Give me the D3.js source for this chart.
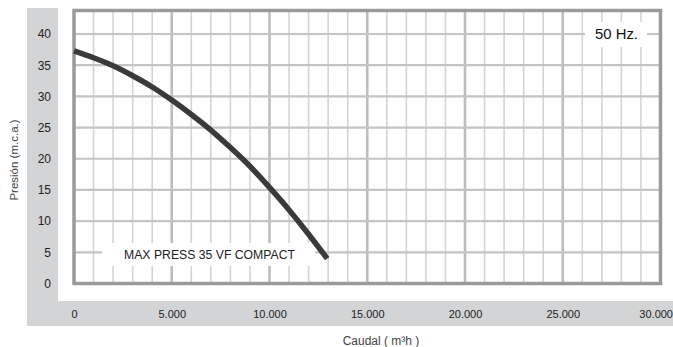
<!DOCTYPE html>
<html><head><meta charset="utf-8">
<script src="https://cdn.jsdelivr.net/npm/d3@7"></script>
<style>
html,body{margin:0;padding:0;background:#fff;}
svg{display:block;font-family:"Liberation Sans",Arial,Helvetica,sans-serif;}
</style></head>
<body>
<svg id="chart" width="673" height="347"></svg>
<script>
// ---- data ----
const flow = [0, 1000, 2000, 3000, 4000, 5000, 6000, 7000, 8000, 9000, 10000, 11000, 12000, 12950];
const pressure = [37.3, 36.2, 34.9, 33.3, 31.5, 29.4, 27.1, 24.6, 21.8, 18.8, 15.4, 11.8, 7.9, 4.0];
const xTicks = [0, 5000, 10000, 15000, 20000, 25000, 30000];
const yTicks = [0, 5, 10, 15, 20, 25, 30, 35, 40];
const seriesName = "MAX PRESS 35 VF COMPACT";
const freqLabel = "50 Hz.";
const yTitle = "Presión (m.c.a.)";
const xTitle = "Caudal";
const xUnit = "m³h";

const svg = d3.select("#chart");
const W = 673, H = 347;
const x = d3.scaleLinear().domain([0, 30000]).range([74, 660.5]);
const y = d3.scaleLinear().domain([0, 40]).range([283.5, 34]);
const frameTop = 10.5;

const loc = d3.formatLocale({decimal: ",", thousands: ".", grouping: [3], currency: ["", ""]});
const fmt = loc.format(",");

// grey panels
svg.append("rect").attr("x", 27).attr("y", 8).attr("width", 31).attr("height", 318).attr("fill", "#d3d4d6");
svg.append("rect").attr("x", 27).attr("y", 301).attr("width", W - 27).attr("height", 25).attr("fill", "#d3d4d6");

// grid
const g = svg.append("g");
const minor = d3.range(1000, 30000, 1000).filter(v => v % 5000 !== 0);
g.selectAll("line.vmin").data(minor).join("line")
  .attr("x1", d => x(d)).attr("x2", d => x(d)).attr("y1", frameTop).attr("y2", y(0))
  .attr("stroke", "#d4d4d6").attr("stroke-width", 1.6);
g.selectAll("line.vmaj").data(xTicks.filter(v => v > 0 && v < 30000)).join("line")
  .attr("x1", d => x(d)).attr("x2", d => x(d)).attr("y1", frameTop).attr("y2", y(0))
  .attr("stroke", "#bdbdbf").attr("stroke-width", 2.6);
g.selectAll("line.h").data(yTicks.filter(v => v > 0)).join("line")
  .attr("x1", x(0)).attr("x2", x(30000)).attr("y1", d => y(d)).attr("y2", d => y(d))
  .attr("stroke", "#c4c4c6").attr("stroke-width", 2.2);

// label boxes (white, covering grid)
svg.append("rect").attr("x", 102).attr("y", 243).attr("width", 213).attr("height", 23).attr("fill", "#fff");
svg.append("rect").attr("x", 585).attr("y", 22).attr("width", 62).attr("height", 25).attr("fill", "#fff");

// frame
svg.append("path")
  .attr("d", `M${x(0)},${y(0)}V${frameTop}H${x(30000)}V${y(0)}Z`)
  .attr("fill", "none").attr("stroke", "#9a9a9c").attr("stroke-width", 3.5);

// curve
const pts = flow.map((f, i) => [f, pressure[i]]);
svg.append("path").datum(pts)
  .attr("d", d3.line().x(d => x(d[0])).y(d => y(d[1])).curve(d3.curveNatural))
  .attr("fill", "none").attr("stroke", "#3a3a3b").attr("stroke-width", 5.5).attr("stroke-linecap", "butt");

// axes
const ya = svg.append("g").attr("transform", "translate(51,0)")
  .call(d3.axisLeft(y).tickValues(yTicks).tickSize(0).tickPadding(0));
ya.select(".domain").remove();
ya.selectAll("text").attr("font-size", 12).attr("fill", "#222").attr("font-family", "'Liberation Sans',Arial,sans-serif");

const xa = svg.append("g").attr("transform", "translate(0,310)")
  .call(d3.axisBottom(x).tickValues(xTicks).tickFormat(fmt).tickSize(0).tickPadding(0));
xa.select(".domain").remove();
xa.selectAll("text").attr("font-size", 11).attr("fill", "#222").attr("font-family", "'Liberation Sans',Arial,sans-serif");
xa.selectAll(".tick").filter(d => d === 30000).select("text").attr("text-anchor", "end").attr("dx", 12);

// labels
svg.append("text").attr("x", 124).attr("y", 259).attr("font-size", 12).attr("fill", "#222")
  .attr("textLength", 171).attr("lengthAdjust", "spacingAndGlyphs").text(seriesName);
svg.append("text").attr("x", 595).attr("y", 38.5).attr("font-size", 14).attr("fill", "#111")
  .attr("textLength", 43).attr("lengthAdjust", "spacingAndGlyphs").text(freqLabel);

svg.append("text").attr("transform", "translate(18,160) rotate(-90)").attr("text-anchor", "middle")
  .attr("font-size", 11.5).attr("fill", "#444").text(yTitle);

const xt = svg.append("text").attr("x", 381).attr("y", 345).attr("text-anchor", "middle")
  .attr("font-size", 12).attr("fill", "#444");
xt.append("tspan").text(xTitle + " ( ");
xt.append("tspan").text(xUnit);
xt.append("tspan").text(" )");
</script>
</body></html>
